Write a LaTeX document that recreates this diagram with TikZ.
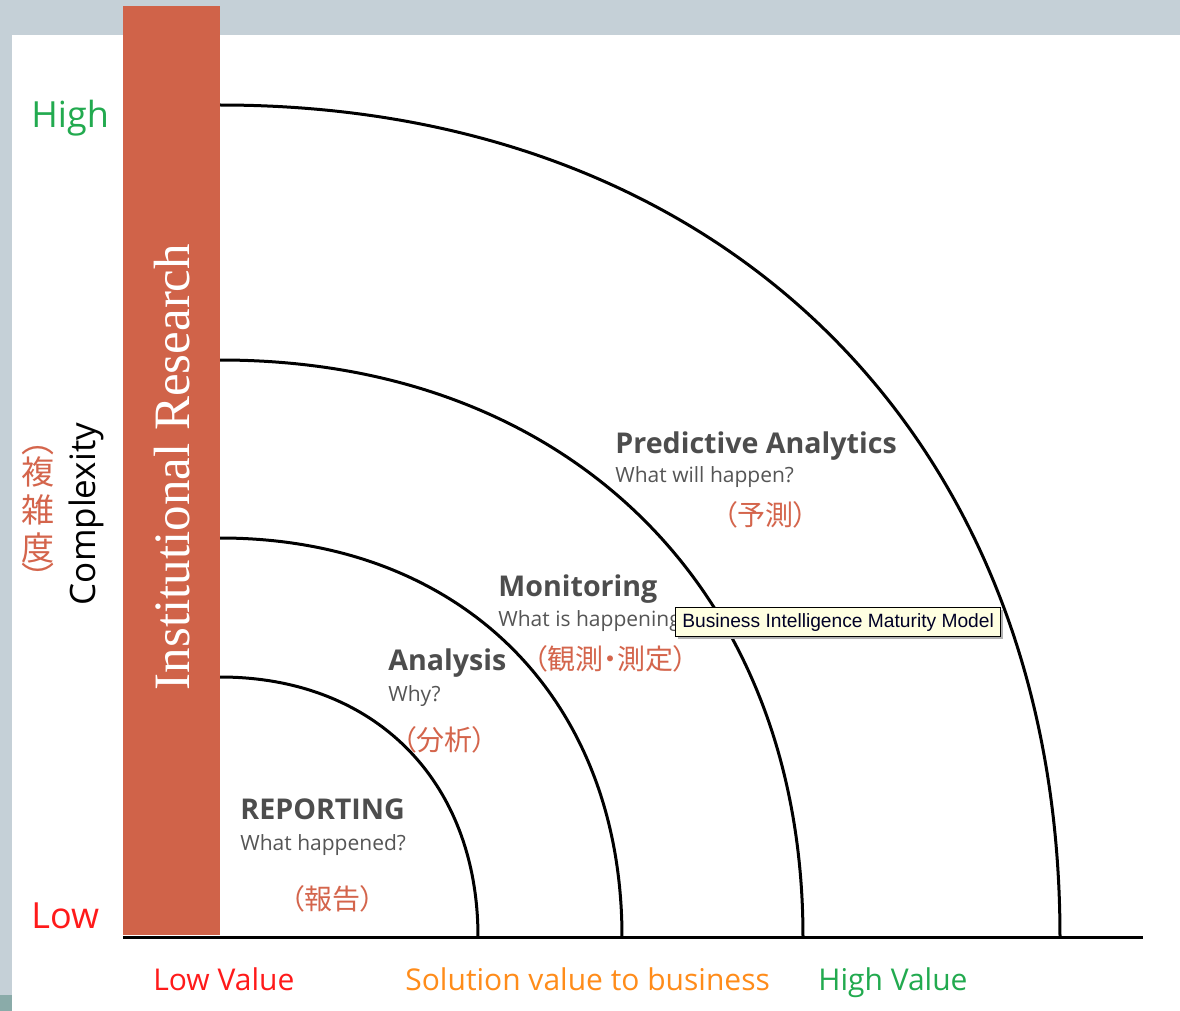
\documentclass[tikz,border=0pt]{standalone}
\usepackage{fontspec}
\setmainfont{Open Sans}
\newfontfamily\irserif{Liberation Serif}
\newfontfamily\jpfont[RawFeature=+palt]{Noto Sans CJK JP}
\newfontfamily\tipfont{Liberation Sans}
\definecolor{bggray}{HTML}{C5D0D7}
\definecolor{tealbit}{HTML}{8AABA9}
\definecolor{barorange}{HTML}{D06349}
\definecolor{jpred}{HTML}{D4654C}
\definecolor{highgreen}{HTML}{22AA4F}
\definecolor{lowred}{HTML}{FF1A1A}
\definecolor{midorange}{HTML}{FF8C1A}
\definecolor{titlegray}{HTML}{4D4D4D}
\definecolor{subgray}{HTML}{555555}
\definecolor{tipyellow}{HTML}{FFFFE1}
\begin{document}
\begin{tikzpicture}[x=0.5pt,y=-0.5pt,
    arcline/.style={line width=1.5pt,black},
    title/.style={anchor=base west,inner sep=0pt,text=titlegray,font=\bfseries\fontsize{14.3}{16}\selectfont},
    subtitle/.style={anchor=base west,inner sep=0pt,text=subgray,font=\fontsize{10.5}{12}\selectfont},
    jlabel/.style={inner sep=0pt,text=jpred,font=\jpfont\fontsize{14}{16}\selectfont},
    jvert/.style={inner sep=0pt,text=jpred,font=\jpfont\fontsize{16.5}{18}\selectfont},
    axislabel/.style={anchor=base west,inner sep=0pt,font=\fontsize{15}{17}\selectfont}]
    \useasboundingbox (0,0) rectangle (1180,1011);
    \fill[bggray] (0,0) rectangle (1180,1011);% slide frame
    \fill[white] (12,35) rectangle (1180,1011);
    \fill[tealbit] (0,995) rectangle (12,1011);
    % the four maturity rings, a little squarer than a true quarter ellipse
    \foreach \rx/\ry in {258/260,402/399,583/577,840/832}{%
      \draw[arcline] (220,937-\ry) .. controls (220+0.6*\rx,937-\ry) and (220+\rx,937-0.6*\ry) .. (220+\rx,937);}
    \fill[barorange] (123,6) rectangle (220,935);% Institutional Research bar
    \node[rotate=90,inner sep=0pt,text=white,font=\irserif\fontsize{25.5}{28}\selectfont] (irtext) at (172,467) {Institutional Research};
    \draw[line width=1.5pt] (123,937) -- (1143,937);% value axis
    % vertical axis labels
    \node[anchor=base west,inner sep=0pt,text=highgreen,font=\fontsize{18}{20}\selectfont] (high) at (31,128) {High};
    \node[anchor=base west,inner sep=0pt,text=lowred,font=\fontsize{18}{20}\selectfont] (low) at (31,928) {Low};
    \node[rotate=90,inner sep=0pt,font=\fontsize{17.5}{20}\selectfont] (cplx) at (86,514) {Complexity};
    \node[jvert,rotate=-90] (cplxopen) at (38,447) {（};
    \node[jvert] (cplxa) at (38,472) {複};
    \node[jvert] (cplxb) at (38,510) {雑};
    \node[jvert] (cplxc) at (38,548) {度};
    \node[jvert,rotate=-90] (cplxclose) at (38,571) {）};
    % ring labels
    \node[title] (rep) at (240,819) {REPORTING};
    \node[subtitle] (repq) at (240,850) {What happened?};
    \node[jlabel] (repjp) at (332,899) {（報告）};
    \node[title] (ana) at (388,670) {Analysis};
    \node[subtitle] (anaq) at (388,701) {Why?};
    \node[jlabel] (anajp) at (444,740) {（分析）};
    \node[title] (mon) at (498,596) {Monitoring};
    \node[subtitle] (monq) at (498,626) {What is happening?};
    \node[jlabel] (monjp) at (610,659) {（観測・測定）};
    \node[title] (pre) at (615,453) {Predictive Analytics};
    \node[subtitle] (preq) at (615,482) {What will happen?};
    \node[jlabel] (prejp) at (765,515) {（予測）};
    % horizontal axis labels
    \node[axislabel,text=lowred] (lowval) at (153,990) {Low Value};
    \node[axislabel,text=midorange] (solval) at (405,990) {Solution value to business};
    \node[axislabel,text=highgreen] (highval) at (818,990) {High Value};
    % tooltip
    \fill[gray!60] (678,610) rectangle (1003,639);
    \node[draw=black,fill=tipyellow,line width=0.6pt,inner sep=0pt,minimum width=162.5pt,minimum height=14.5pt,anchor=north west,text=black!85!blue,font=\tipfont\fontsize{9.6}{10}\selectfont] (tip) at (675,607) {Business Intelligence Maturity Model};
\end{tikzpicture}
\end{document}
